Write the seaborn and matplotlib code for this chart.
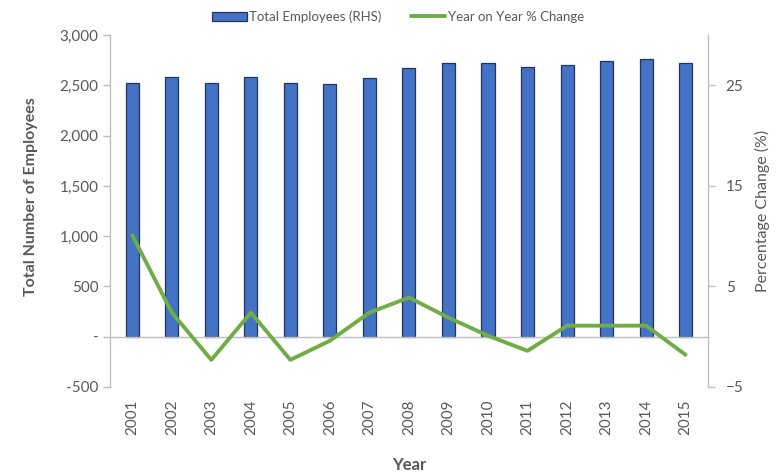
import numpy as np
import pandas as pd
import matplotlib
matplotlib.use("Agg")
import matplotlib.pyplot as plt
import matplotlib.ticker as mticker
from matplotlib.patches import Patch
from matplotlib.lines import Line2D
import seaborn as sns

years = ["2001", "2002", "2003", "2004", "2005", "2006", "2007", "2008",
         "2009", "2010", "2011", "2012", "2013", "2014", "2015"]
employees = [2525, 2585, 2525, 2585, 2525, 2512, 2572, 2671,
             2721, 2721, 2684, 2708, 2744, 2768, 2721]
pct_change = [10.1, 2.4, -2.3, 2.4, -2.3, -0.4, 2.4, 3.9,
              1.9, 0.1, -1.4, 1.1, 1.1, 1.1, -1.8]

left_ticks = [-500, 0, 500, 1000, 1500, 2000, 2500, 3000]
right_ticks = [-5, 5, 15, 25]

BAR_BLUE = "#4472C4"
BAR_EDGE = "#22335E"
LINE_GREEN = "#70AD47"
TEXT_GREY = "#595959"
AXIS_GREY = "#BFBFBF"

sns.set_style("white")
plt.rcParams["font.family"] = ["Lato", "DejaVu Sans"]

df = pd.DataFrame({"pos": np.arange(len(years)), "year": years,
                   "employees": employees, "pct": pct_change})

fig = plt.figure(figsize=(7.76, 4.76), dpi=100)
ax = fig.add_axes([0.142, 0.187, 0.770, 0.739])

sns.barplot(data=df, x="pos", y="employees", ax=ax, color=BAR_BLUE,
            width=0.33, edgecolor=BAR_EDGE, linewidth=0.9, saturation=1,
            native_scale=True)
ax.set_xlim(-0.56, len(years) - 0.44)
ax.set_ylim(-500, 3000)
ax.set_yticks(left_ticks)
ax.yaxis.set_major_formatter(mticker.FuncFormatter(
    lambda v, _: "-" if v == 0 else f"{int(v):,}"))

# category axis sits on the zero line, labels kept low under the plot
ax.spines["bottom"].set_position(("data", 0))
ax.spines["top"].set_visible(False)
ax.spines["right"].set_visible(False)
for s in ("left", "bottom"):
    ax.spines[s].set_color(AXIS_GREY)
    ax.spines[s].set_linewidth(1.0)
ax.set_xticks(df["pos"])
ax.set_xticklabels(years, rotation=90)
ax.tick_params(axis="x", direction="out", length=5, width=1, color=AXIS_GREY,
               pad=40, labelsize=11, labelcolor=TEXT_GREY)
ax.tick_params(axis="y", direction="out", length=5, width=1, color=AXIS_GREY,
               labelsize=11, labelcolor=TEXT_GREY, left=True)

ax.set_xlabel("Year", fontsize=12, fontweight="bold", color=TEXT_GREY)
ax.xaxis.set_label_coords(0.5, -0.2)
ax.set_ylabel("Total Number of Employees", fontsize=11.5, fontweight="bold",
              color=TEXT_GREY)
ax.yaxis.set_label_coords(-0.12, 0.54)

ax2 = ax.twinx()
sns.lineplot(data=df, x="pos", y="pct", ax=ax2, color=LINE_GREEN,
             linewidth=2.8, legend=False)
ax2.set_ylim(-5, 30)
ax2.set_yticks(right_ticks)
ax2.set_xlim(ax.get_xlim())
for s in ("top", "bottom", "left"):
    ax2.spines[s].set_visible(False)
ax2.spines["right"].set_color(AXIS_GREY)
ax2.spines["right"].set_linewidth(1.0)
ax2.tick_params(axis="y", direction="out", length=5, width=1, color=AXIS_GREY,
                labelsize=11, labelcolor=TEXT_GREY, right=True, pad=8)
ax2.set_ylabel("Percentage Change (%)", fontsize=11.5, color=TEXT_GREY,
               labelpad=8)
ax2.set_xlabel("")

handles = [Patch(facecolor=BAR_BLUE, edgecolor=BAR_EDGE, linewidth=0.9),
           Line2D([0], [0], color=LINE_GREEN, linewidth=2.8)]
labels = ["Total Employees (RHS)", "Year on Year % Change"]
fig.legend(handles, labels, loc="center", bbox_to_anchor=(0.513, 0.965),
           ncol=2, frameon=False, fontsize=9.5, labelcolor=TEXT_GREY,
           handlelength=2.6, handleheight=0.7, handletextpad=0.2,
           columnspacing=2.2)

fig.savefig("out.png", dpi=100, facecolor="white")
